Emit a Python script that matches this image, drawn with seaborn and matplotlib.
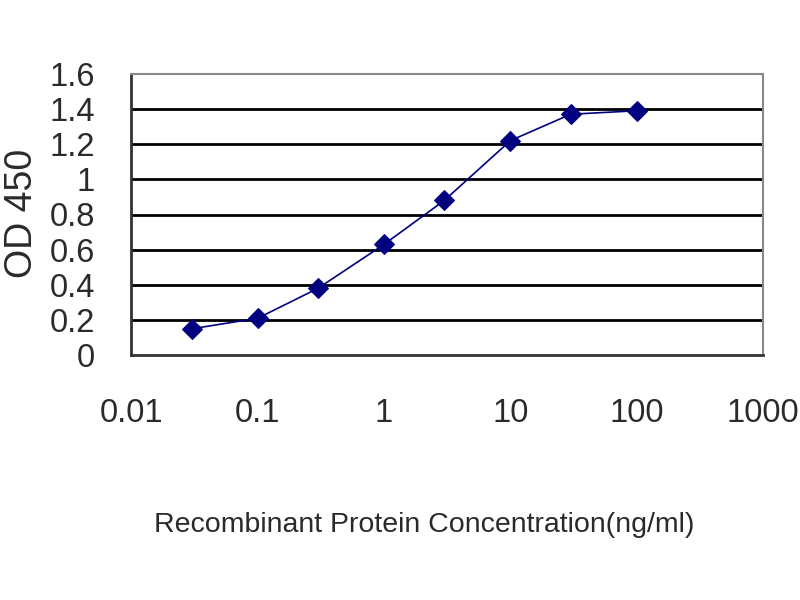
import matplotlib
matplotlib.use("Agg")
import matplotlib.pyplot as plt
import seaborn as sns
import pandas as pd

# values
concentration = [0.03, 0.1, 0.3, 1, 3, 10, 30, 100]
od450 = [0.15, 0.21, 0.38, 0.63, 0.88, 1.22, 1.37, 1.39]
x_ticks = [0.01, 0.1, 1, 10, 100, 1000]
x_tick_labels = ["0.01", "0.1", "1", "10", "100", "1000"]
y_ticks = [0, 0.2, 0.4, 0.6, 0.8, 1.0, 1.2, 1.4, 1.6]
y_tick_labels = ["0", "0.2", "0.4", "0.6", "0.8", "1", "1.2", "1.4", "1.6"]

df = pd.DataFrame({"conc": concentration, "od": od450})

sns.set_style("white")
plt.rcParams["font.family"] = ["Liberation Sans", "DejaVu Sans"]

txt = "#2a2a2a"
fig = plt.figure(figsize=(8, 6), dpi=100)
ax = fig.add_axes([0.164, 0.408, 0.79, 0.469])

# black horizontal gridlines
for y in y_ticks[1:-1]:
    ax.axhline(y, color="black", lw=2.0, zorder=1)

sns.lineplot(data=df, x="conc", y="od", ax=ax, color="#000080", lw=1.2,
             marker="D", markersize=10.5, markeredgecolor="#000080", zorder=3)

ax.set_xscale("log")
ax.set_xlim(0.01, 1000)
ax.set_ylim(0, 1.6)
ax.set_xticks(x_ticks)
ax.set_xticklabels(x_tick_labels)
ax.set_yticks(y_ticks)
ax.set_yticklabels(y_tick_labels)
ax.minorticks_off()
ax.tick_params(axis="x", direction="in", length=6, width=1.2, color="#333333",
               labelsize=23.5, labelcolor=txt, pad=31)
ax.tick_params(axis="y", direction="in", length=0, labelsize=23.5, labelcolor=txt, pad=26)
ax.set_xlabel("")
ax.set_ylabel("")

for s in ["left", "bottom"]:
    ax.spines[s].set_color("#333333")
    ax.spines[s].set_linewidth(2)
for s in ["top", "right"]:
    ax.spines[s].set_color("#888888")
    ax.spines[s].set_linewidth(1.5)

fig.text(0.028, 0.645, "OD 450", rotation=90, ha="center", va="center",
         fontsize=27, color=txt)
fig.text(0.53, 0.125, "Recombinant Protein Concentration(ng/ml)", ha="center",
         va="center", fontsize=20.5, color=txt)

fig.savefig("out.png", dpi=100, facecolor="white")
